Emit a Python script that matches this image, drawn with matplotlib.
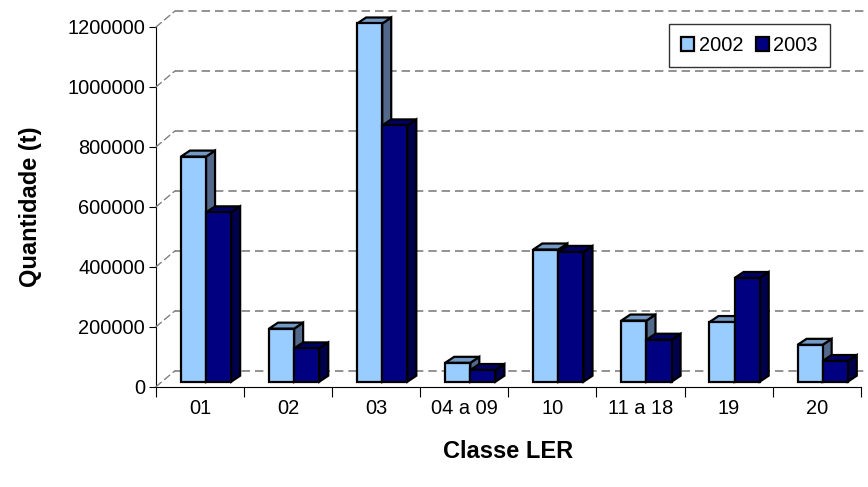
import numpy as np
import matplotlib
matplotlib.use("Agg")
from matplotlib import pyplot as plt
from matplotlib import transforms as mtransforms
from matplotlib.patches import Polygon, ConnectionPatch, Rectangle
from matplotlib.ticker import FixedLocator, FuncFormatter

plt.rcParams["font.family"] = ["Liberation Sans", "DejaVu Sans"]

categories = ["01", "02", "03", "04 a 09", "10", "11 a 18", "19", "20"]
series_names = ["2002", "2003"]
values_2002 = [751000, 177000, 1195000, 63000, 441000, 204000, 199000, 123000]
values_2003 = [565000, 111000, 855000, 39000, 433000, 140000, 346000, 69000]
y_ticks = [0, 200000, 400000, 600000, 800000, 1000000, 1200000]

# colours: front, top, side
light = ("#99CCFF", "#7399C4", "#52698C")
dark = ("#000080", "#000066", "#00004D")

DPI = 100
fig = plt.figure(figsize=(8.68, 4.87), dpi=DPI)
W, H = 868, 487
x_left, x_right = 156, 860.7
y_bottom, y_top = 386.7, 27
ax = fig.add_axes([x_left / W, 1 - y_bottom / H, (x_right - x_left) / W, (y_bottom - y_top) / H])

n = len(categories)
ax.set_xlim(-0.5, n - 0.5)
ax.set_ylim(0, 1200000)

# 3d offsets in pixels
wall = np.array([19.0, 16.0])   # full depth (front axis -> back wall)
front = np.array([6.0, 5.0])    # bar front face
depth = np.array([9.0, 6.0])    # bar depth

back_trans = mtransforms.offset_copy(ax.transData, fig=fig, x=wall[0], y=wall[1], units="dots")

# back wall gridlines and diagonals
for v in y_ticks:
    ax.plot([-0.5, n - 0.5], [v, v], transform=back_trans, color="#808080",
            lw=1.2, ls=(0, (5, 3)), clip_on=False, zorder=1)
    con = ConnectionPatch(xyA=(-0.5, v), coordsA=ax.transData,
                          xyB=(-0.5, v), coordsB=back_trans,
                          color="#808080", lw=1.0, ls=(0, (5, 3)), zorder=1)
    fig.add_artist(con)

bar_w = 0.285


def draw_bar(x0, x1, h, cols):
    p00 = ax.transData.transform((x0, 0)) + front
    p10 = ax.transData.transform((x1, 0)) + front
    p11 = ax.transData.transform((x1, h)) + front
    p01 = ax.transData.transform((x0, h)) + front
    kw = dict(transform=mtransforms.IdentityTransform(), ec="black", lw=1.6,
              joinstyle="miter", clip_on=False, zorder=3)
    # side
    fig.add_artist(Polygon([p10, p10 + depth, p11 + depth, p11], closed=True, fc=cols[2], **kw))
    # top
    fig.add_artist(Polygon([p01, p11, p11 + depth, p01 + depth], closed=True, fc=cols[1], **kw))
    # front
    fig.add_artist(Polygon([p00, p10, p11, p01], closed=True, fc=cols[0], **kw))


fig.canvas.draw()
for i in range(n):
    draw_bar(i - bar_w, i, values_2002[i], light)
    draw_bar(i, i + bar_w, values_2003[i], dark)

# axes styling
for s in ["top", "right"]:
    ax.spines[s].set_visible(False)
ax.spines["left"].set_color("black")
ax.spines["bottom"].set_color("black")
ax.patch.set_visible(False)

ax.yaxis.set_major_locator(FixedLocator(y_ticks))
ax.yaxis.set_major_formatter(FuncFormatter(lambda v, p: "%d" % v))
ax.tick_params(axis="y", direction="out", length=5, labelsize=14.4, pad=3)

ax.set_xticks(np.arange(-0.5, n, 1.0))
ax.set_xticklabels([])
ax.set_xticks(np.arange(n), minor=True)
ax.set_xticklabels(categories, minor=True)
ax.tick_params(axis="x", which="major", direction="out", length=7)
ax.tick_params(axis="x", which="minor", length=0, labelsize=14.4, pad=9)

ax.set_ylabel("Quantidade (t)", fontsize=17, fontweight="bold", labelpad=18)
ax.set_xlabel("Classe LER", fontsize=17, fontweight="bold", labelpad=16)

# legend
handles = [Rectangle((0, 0), 1, 1, fc=light[0], ec="black", lw=1.6),
           Rectangle((0, 0), 1, 1, fc=dark[0], ec="black", lw=1.6)]
leg = ax.legend(handles, series_names, loc="upper right", bbox_to_anchor=(830 / W, 1 - 24 / H),
                bbox_transform=fig.transFigure, ncol=2, fontsize=14.4, frameon=True,
                fancybox=False, edgecolor="black", handlelength=0.65, handleheight=0.65,
                handletextpad=0.25, columnspacing=0.6, borderpad=0.6, borderaxespad=0)
leg.get_frame().set_linewidth(1.0)

fig.savefig("out.png", dpi=DPI)
